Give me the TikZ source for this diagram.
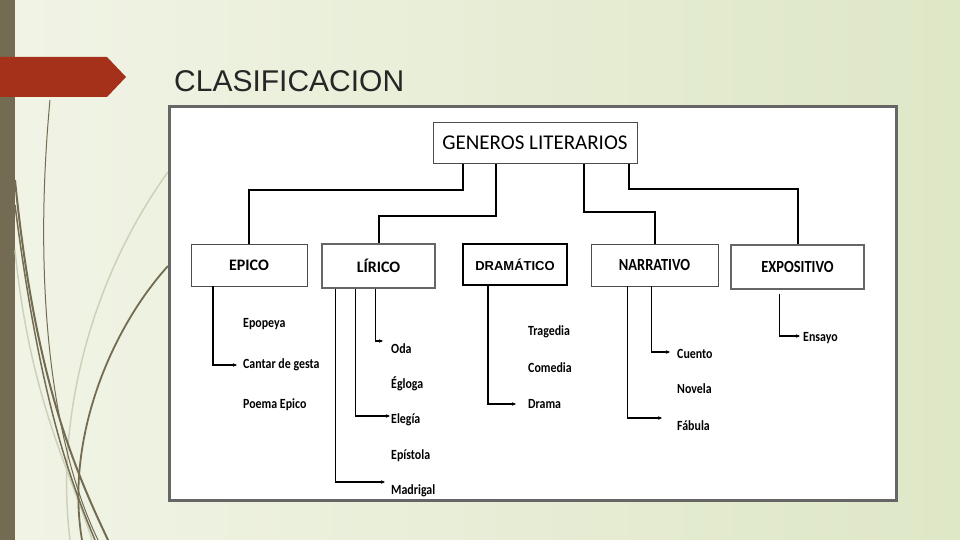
\documentclass[tikz,border=0pt]{standalone}
\usepackage{fontspec}
\setmainfont{Carlito}
\newfontfamily\arialfont{Liberation Sans}
\newfontfamily\condfont[FakeStretch=0.85]{Carlito}
\usetikzlibrary{positioning,arrows.meta}
\definecolor{bgleft}{HTML}{F1F4E6}
\definecolor{bgright}{HTML}{DEE7C6}
\definecolor{olivebar}{HTML}{736B52}
\definecolor{marker}{HTML}{A5311A}
\definecolor{palecurve}{HTML}{CDD1BA}

\begin{document}
\begin{tikzpicture}[
  x=1pt,y=-1pt,
  >={Stealth[length=4pt,width=3.5pt]},
  genre/.style={draw=black!70,fill=white,inner sep=0pt,minimum height=42pt,
    font=\bfseries\fontsize{16}{16}\selectfont},
  item/.style={anchor=west,inner sep=0pt,font=\condfont\bfseries\fontsize{14}{14}\selectfont},
  link/.style={line width=2pt},
  sub/.style={->,line width=1.3pt}
  ]
  \useasboundingbox (0,0) rectangle (960,540);
  % Background
  \fill[left color=bgleft,right color=bgright] (0,0) rectangle (960,540);
  \fill[olivebar] (0,0) rectangle (15,540);
  % Curves
  \draw[palecurve,line width=1.5pt] (168,172) .. controls (90,280) and (55,420) .. (70,540);
  \draw[palecurve,line width=1.5pt] (15,250) .. controls (30,400) and (70,470) .. (92,540);
  \draw[olivebar,line width=1pt] (50,100) .. controls (35,260) and (45,430) .. (98,540);
  \draw[olivebar,line width=2pt] (15,180) .. controls (35,380) and (75,470) .. (108,540);
  \draw[olivebar,line width=1.5pt] (15,205) .. controls (40,400) and (70,480) .. (95,540);
  \draw[olivebar,line width=1.8pt] (168,266) .. controls (110,330) and (65,440) .. (82,540);
  % Title
  \fill[marker] (0,57) -- (107,57) -- (126,77) -- (107,97) -- (0,97) -- cycle;
  \node[font=\arialfont\fontsize{30}{30}\selectfont,anchor=base west,inner sep=0pt,
    text=black!85] (title) at (174,92) {CLASIFICACION};
  % Frame
  \draw[gray!80!black,line width=3pt,fill=white] (169.5,106.5) rectangle (896.5,500.5);
  % Genres
  \node[draw=black!70,fill=white,minimum width=204pt,minimum height=41pt,
    font=\fontsize{21}{21}\selectfont] (gen) at (535,143) {GENEROS LITERARIOS};
  \node[genre,minimum width=116pt] (epico) at (249,265) {EPICO};
  \node[genre,minimum width=113pt,minimum height=44pt,draw=black!60,line width=1.2pt] (lirico) at (378.5,266) {LÍRICO};
  \node[genre,minimum width=104pt,minimum height=41pt,draw=black,line width=1.5pt,
    font=\arialfont\bfseries\fontsize{13}{13}\selectfont] (drama) at (515,264.5) {DRAMÁTICO};
  \node[genre,minimum width=127pt,font=\condfont\bfseries\fontsize{17}{17}\selectfont] (narra) at (654.5,265) {NARRATIVO};
  \node[genre,minimum width=133pt,minimum height=44pt,draw=black!60,line width=1.2pt,
    font=\condfont\bfseries\fontsize{17}{17}\selectfont] (expo) at (797.5,267) {EXPOSITIVO};
  \draw[link] ([xshift=-72]gen.south) -- ++(0,26) -| (epico.north);
  \draw[link] ([xshift=-39]gen.south) -- ++(0,52) -| (lirico.north);
  \draw[link] ([xshift=49]gen.south) -- ++(0,48) -| (narra.north);
  \draw[link] ([xshift=94]gen.south) -- ++(0,25) -| (expo.north);
  % Epico
  \node[item] (epopeya) at (243,324) {Epopeya};
  \node[item] (cantar) at (243,365) {Cantar de gesta};
  \node[item] (poema) at (243,405) {Poema Epico};
  \draw[sub] ([xshift=-36]epico.south) |- ([xshift=-6]cantar.west);
  % Lirico
  \node[item] (oda) at (391,349) {Oda};
  \node[item] (egloga) at (391,384) {Égloga};
  \node[item] (elegia) at (391,420) {Elegía};
  \node[item] (epistola) at (391,456) {Epístola};
  \node[item] (madrigal) at (391,491) {Madrigal};
  \draw[sub] ([xshift=-3]lirico.south) |- ([xshift=-8,yshift=8]oda.west);
  \draw[sub] ([xshift=-23]lirico.south) |- ([xshift=-1,yshift=4]elegia.west);
  \draw[sub] ([xshift=-43]lirico.south) |- ([xshift=-6,yshift=9]madrigal.west);
  % Dramatico
  \node[item] (tragedia) at (528,332) {Tragedia};
  \node[item] (comedia) at (528,368) {Comedia};
  \node[item] (dramaitem) at (528,404) {Drama};
  \draw[sub] ([xshift=-27]drama.south) |- ([xshift=-12]dramaitem.west);
  % Narrativo
  \node[item] (cuento) at (677,354) {Cuento};
  \node[item] (novela) at (677,389) {Novela};
  \node[item] (fabula) at (677,426) {Fábula};
  \draw[sub] ([xshift=-3]narra.south) |- ([xshift=-7,yshift=2]cuento.west);
  \draw[sub] ([xshift=-27]narra.south) |- ([xshift=-15,yshift=8]fabula.west);
  % Expositivo
  \node[item] (ensayo) at (803,338) {Ensayo};
  \draw[sub] ([xshift=-18,yshift=-4]expo.south) |- ([xshift=-3,yshift=2]ensayo.west);
\end{tikzpicture}
\end{document}
